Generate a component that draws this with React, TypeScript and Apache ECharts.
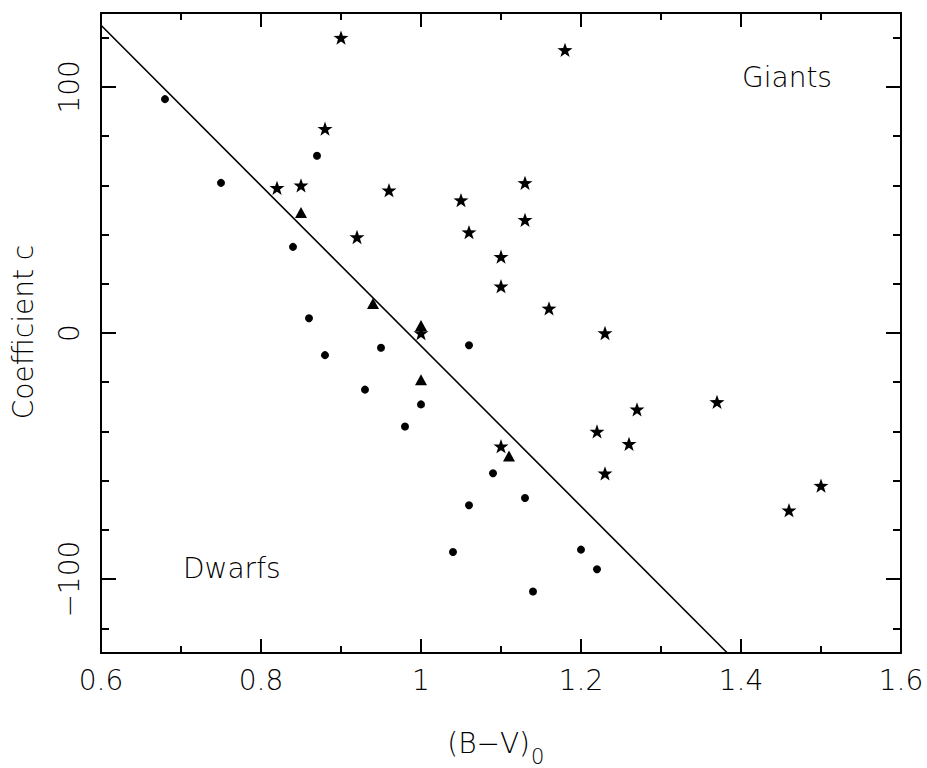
import React, { useEffect, useRef } from "react";
import * as echarts from "echarts";

// Dwarfs (filled circles)
const dotsX = [0.68, 0.75, 0.87, 0.84, 0.86, 0.88, 0.95, 1.06, 0.93, 1.0, 0.98, 1.09, 1.06, 1.13, 1.04, 1.2, 1.22, 1.14];
const dotsY = [95, 61, 72, 35, 6, -9, -6, -5, -23, -29, -38, -57, -70, -67, -89, -88, -96, -105];

// Triangles
const triX = [0.85, 0.94, 1.0, 1.0, 1.11];
const triY = [49, 12, 3, -19, -50];

// Giants (stars)
const starX = [0.9, 1.18, 0.88, 0.82, 0.85, 0.96, 0.92, 1.05, 1.13, 1.13, 1.06, 1.1, 1.1, 1.16, 1.23, 1.0, 1.1, 1.22, 1.23, 1.27, 1.26, 1.37, 1.5, 1.46];
const starY = [120, 115, 83, 59, 60, 58, 39, 54, 61, 46, 41, 31, 19, 10, 0, 0, -46, -40, -57, -31, -45, -28, -62, -72];

// Dividing line endpoints
const lineX = [0.6, 1.383];
const lineY = [125, -130];

// Axis ranges and ticks
const xMin = 0.6;
const xMax = 1.6;
const yMin = -130;
const yMax = 130;
const xMajor = [0.6, 0.8, 1.0, 1.2, 1.4, 1.6];
const xMinor = [0.7, 0.9, 1.1, 1.3, 1.5];
const yMajor = [-100, 0, 100];
const yMinor = [-120, -80, -60, -40, -20, 20, 40, 60, 80, 120];

const FONT = "'DejaVu Sans', sans-serif";
const FW = 200;
const FS = 28;

const STAR =
  "path://M0,-10 L2.35,-3.24 L9.51,-3.09 L3.8,1.24 L5.88,8.09 L0,4 L-5.88,8.09 L-3.8,1.24 L-9.51,-3.09 L-2.35,-3.24 Z";

function zip(xs: number[], ys: number[]) {
  return xs.map((x, i) => [x, ys[i]]);
}

export default function App() {
  const ref = useRef<HTMLDivElement>(null);
  useEffect(() => {
    if (!ref.current) return;
    const chart = echarts.init(ref.current, undefined, { renderer: "svg" });
    const lineStyle = { color: "#000", width: 2 };
    const mkX = (pos: "top" | "bottom", vals: number[], len: number, labels: boolean, line: boolean) => ({
      type: "value",
      position: pos,
      min: xMin,
      max: xMax,
      axisLine: { show: line, onZero: false, lineStyle },
      axisTick: { show: true, inside: true, length: len, customValues: vals, lineStyle },
      axisLabel: {
        show: labels,
        customValues: vals,
        margin: 13,
        color: "#000",
        fontSize: FS,
        fontFamily: FONT,
        fontWeight: FW,
        formatter: (v: number) => String(Math.round(v * 10) / 10),
      },
      splitLine: { show: false },
    });
    const mkY = (pos: "left" | "right", vals: number[], len: number, labels: boolean, line: boolean) => ({
      type: "value",
      position: pos,
      min: yMin,
      max: yMax,
      axisLine: { show: line, onZero: false, lineStyle },
      axisTick: { show: true, inside: true, length: len, customValues: vals, lineStyle },
      axisLabel: {
        show: labels,
        customValues: vals,
        rotate: 90,
        margin: 18,
        color: "#000",
        fontSize: FS,
        fontFamily: FONT,
        fontWeight: FW,
        formatter: (v: number) => String(v).replace("-", "\u2212"),
      },
      splitLine: { show: false },
    });
    const mark = { color: "#000", opacity: 1 };
    chart.setOption({
      animation: false,
      backgroundColor: "#fff",
      grid: { left: 101, top: 13, width: 800, height: 640 },
      xAxis: [
        mkX("bottom", xMajor, 14, true, true),
        mkX("bottom", xMinor, 7, false, false),
        mkX("top", xMajor, 14, false, true),
        mkX("top", xMinor, 7, false, false),
      ],
      yAxis: [
        mkY("left", yMajor, 15, true, true),
        mkY("left", yMinor, 8, false, false),
        mkY("right", yMajor, 15, false, true),
        mkY("right", yMinor, 8, false, false),
      ],
      series: [
        {
          type: "line",
          data: zip(lineX, lineY),
          showSymbol: false,
          symbol: "none",
          lineStyle: { color: "#000", width: 1.6 },
          silent: true,
          z: 1,
        },
        {
          type: "scatter",
          data: zip(dotsX, dotsY),
          symbol: "circle",
          symbolSize: 8,
          itemStyle: mark,
          z: 2,
        },
        {
          type: "scatter",
          data: zip(triX, triY),
          symbol: "triangle",
          symbolSize: [12, 11],
          itemStyle: mark,
          z: 2,
        },
        {
          type: "scatter",
          data: zip(starX, starY),
          symbol: STAR,
          symbolSize: 15,
          symbolKeepAspect: true,
          itemStyle: mark,
          z: 2,
        },
      ],
      graphic: [
        {
          type: "text",
          x: 742,
          y: 77,
          style: { text: "Giants", fill: "#000", font: `${FW} ${FS}px ${FONT}`, align: "left", verticalAlign: "middle" },
        },
        {
          type: "text",
          x: 183,
          y: 568,
          style: { text: "Dwarfs", fill: "#000", font: `${FW} ${FS}px ${FONT}`, align: "left", verticalAlign: "middle" },
        },
        {
          type: "text",
          x: 23,
          y: 332,
          rotation: Math.PI / 2,
          style: { text: "Coefficient c", fill: "#000", font: `${FW} ${FS}px ${FONT}`, align: "center", verticalAlign: "middle" },
        },
        {
          type: "text",
          x: 530,
          y: 743,
          style: { text: "(B\u2212V)", fill: "#000", font: `${FW} ${FS}px ${FONT}`, align: "right", verticalAlign: "middle" },
        },
        {
          type: "text",
          x: 531,
          y: 757,
          style: { text: "0", fill: "#000", font: `${FW} 21px ${FONT}`, align: "left", verticalAlign: "middle" },
        },
      ],
    });
    return () => chart.dispose();
  }, []);
  return (
    <div
      ref={ref}
      style={{ position: "fixed", left: 0, top: 0, width: 927, height: 768, background: "#fff" }}
    />
  );
}
